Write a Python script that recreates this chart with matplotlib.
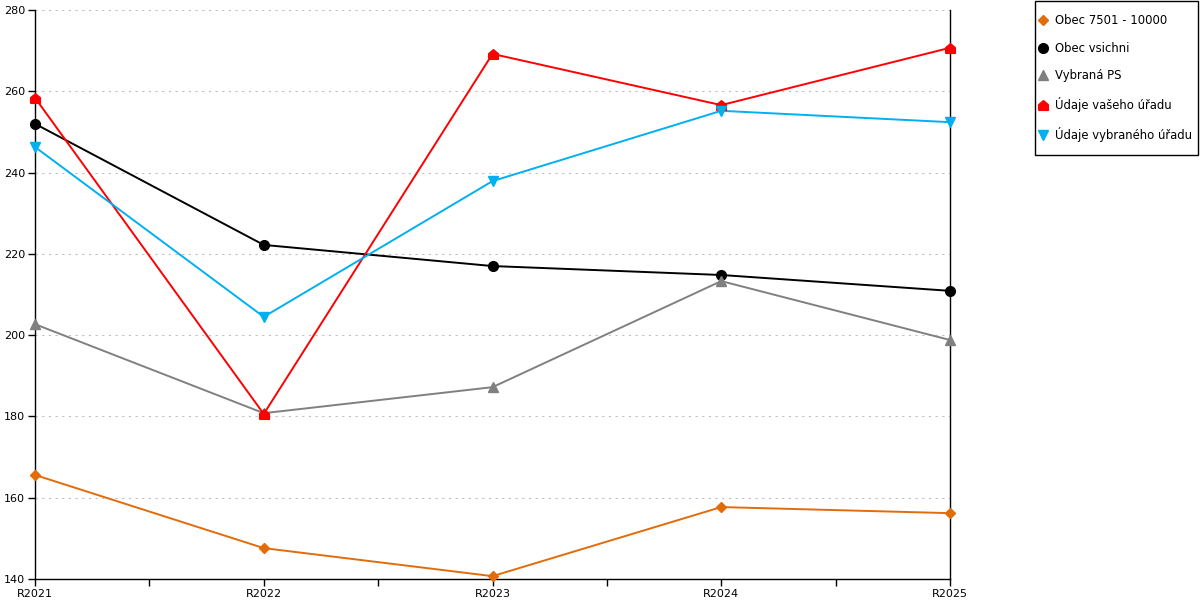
import numpy as np
import matplotlib
matplotlib.use("Agg")
import matplotlib.pyplot as plt
from matplotlib.patches import Rectangle
from matplotlib.ticker import MultipleLocator

years = ["R2021", "R2022", "R2023", "R2024", "R2025"]

obec_7501 = [165.6, 147.6, 140.7, 157.7, 156.2]
obec_vsichni = [252.0, 222.2, 217.0, 214.8, 210.9]
vybrana_ps = [202.7, 180.8, 187.2, 213.3, 198.8]
vas_urad = [258.4, 180.6, 269.2, 256.6, 270.7]
vybrany_urad = [246.3, 204.5, 237.9, 255.2, 252.4]

labels = ["Obec 7501 - 10000", "Obec vsichni", "Vybraná PS",
          "Údaje vašeho úřadu", "Údaje vybraného úřadu"]

# house shaped marker for the red series
house = [(-1, -1), (1, -1), (1, 0.15), (0, 1), (-1, 0.15), (-1, -1)]

series = [
    (obec_7501, "#e36c0a", "D", 5.5),
    (obec_vsichni, "#000000", "o", 7),
    (vybrana_ps, "#808080", "^", 7),
    (vas_urad, "#ff0000", house, 7),
    (vybrany_urad, "#00b0f0", "v", 7),
]

plt.rcParams['font.family'] = ['DejaVu Sans']
fig = plt.figure(figsize=(12, 6), dpi=100)
ax = fig.add_axes([35/1200, 21/600, 915/1200, 569/600])

x = np.arange(len(years))
handles = []
for (vals, col, mk, ms), lab in zip(series, labels):
    ax.plot(x, vals, color=col, lw=1.4, zorder=3, clip_on=False)
    ax.plot(x, vals, ls="none", marker=mk, ms=ms, color=col, mec=col,
            zorder=4, clip_on=False)
    h, = ax.plot([], [], ls="none", marker=mk, ms=ms, color=col, mec=col, label=lab)
    handles.append(h)

ax.set_xlim(0, len(years) - 1)
ax.set_ylim(140, 280)
ax.set_xticks(x)
ax.set_xticklabels(years, fontsize=8)
ax.xaxis.set_minor_locator(MultipleLocator(0.5))
ax.yaxis.set_major_locator(MultipleLocator(20))
ax.tick_params(axis="y", labelsize=8, length=5, width=1, pad=2)
ax.tick_params(axis="x", which="both", length=5, width=1, pad=2)
ax.grid(axis="y", color="#c0c0c0", ls=(0, (2, 4)), lw=0.8)
ax.set_axisbelow(True)
ax.spines["top"].set_visible(False)
for s in ["left", "right", "bottom"]:
    ax.spines[s].set_linewidth(1)
    ax.spines[s].set_color("black")

# legend without frame, box drawn separately (uneven padding in the original)
fig.legend(handles=handles, loc="upper left",
           bbox_to_anchor=(1039/1200, 1 - 14/600), fontsize=8.4,
           frameon=False, handlelength=0.7, handletextpad=0.65,
           labelspacing=1.26, borderpad=0, borderaxespad=0)
fig.patches.append(Rectangle((1035/1200, 1 - 155/600), 163/1200, 154/600,
                             transform=fig.transFigure, fill=False,
                             edgecolor="black", lw=1))

fig.savefig("out.png", dpi=100)
